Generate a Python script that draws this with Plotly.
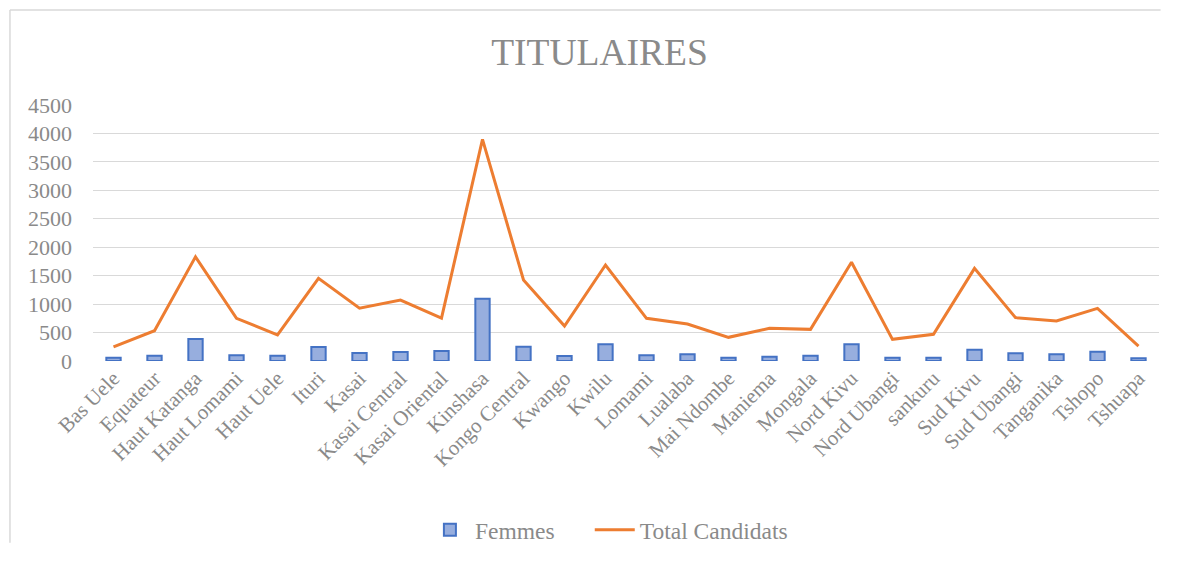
import plotly.graph_objects as go

provinces = ["Bas Uele", "Equateur", "Haut Katanga", "Haut Lomami", "Haut Uele", "Ituri",
             "Kasai", "Kasai Central", "Kasai Oriental", "Kinshasa", "Kongo Central", "Kwango",
             "Kwilu", "Lomami", "Lualaba", "Mai Ndombe", "Maniema", "Mongala", "Nord Kivu",
             "Nord Ubangi", "sankuru", "Sud Kivu", "Sud Ubangi", "Tanganika", "Tshopo", "Tshuapa"]
femmes = [58, 92, 388, 103, 92, 246, 141, 158, 175, 1095, 252, 88, 293, 100, 117, 58, 76, 94,
          293, 58, 58, 199, 135, 117, 164, 47]
total_candidats = [250, 533, 1830, 750, 460, 1452, 928, 1072, 753, 3896, 1425, 615, 1688, 750,
                   650, 416, 574, 556, 1735, 381, 469, 1628, 762, 703, 926, 263]
y_ticks = [0, 500, 1000, 1500, 2000, 2500, 3000, 3500, 4000, 4500]

FONT = "Liberation Serif"
GRAY = "#8a8a8a"

fig = go.Figure()
fig.add_trace(go.Bar(
    x=provinces, y=femmes, name="Femmes", legend="legend",
    marker=dict(color="#97AEDE", line=dict(color="#4472C4", width=2)),
))
fig.add_trace(go.Scatter(
    x=provinces, y=total_candidats, name="Total Candidats", mode="lines", legend="legend2",
    line=dict(color="#ED7D31", width=3),
))

legend_font = dict(family=FONT, size=23.5, color=GRAY)
fig.update_layout(
    width=1153, height=535,
    margin=dict(l=85, r=2, t=97, b=182, autoexpand=False),
    paper_bgcolor="white", plot_bgcolor="white",
    title=dict(text="TITULAIRES", x=0.513, xanchor="center", y=0.918, yanchor="middle",
               font=dict(family=FONT, size=37.5, color=GRAY)),
    font=dict(family=FONT, size=22, color=GRAY),
    bargap=0.65,
    showlegend=True,
    legend=dict(orientation="h", x=0.438, xanchor="right", y=-0.66, yanchor="middle",
                font=legend_font, itemwidth=40),
    legend2=dict(orientation="h", x=0.466, xanchor="left", y=-0.66, yanchor="middle",
                 font=legend_font, itemwidth=40),
    xaxis=dict(tickangle=-45, showgrid=False, showline=False, ticks="",
               tickfont=dict(family=FONT, size=21, color=GRAY), automargin=False),
    yaxis=dict(range=[0, 4500], tickvals=y_ticks, showgrid=True, gridcolor="#D9D9D9",
               gridwidth=1.3, zeroline=False, showline=False, ticks="", automargin=False,
               ticklabelstandoff=20, tickfont=dict(family=FONT, size=22, color=GRAY)),
    shapes=[
        dict(type="line", xref="paper", yref="paper", x0=-0.0779, x1=-0.0779, y0=-0.71, y1=1.371,
             line=dict(color="#D9D9D9", width=1.5)),
        dict(type="line", xref="paper", yref="paper", x0=-0.0779, x1=1.0015, y0=1.371, y1=1.371,
             line=dict(color="#D9D9D9", width=1.5)),
    ],
)

fig.write_html("out.html")
